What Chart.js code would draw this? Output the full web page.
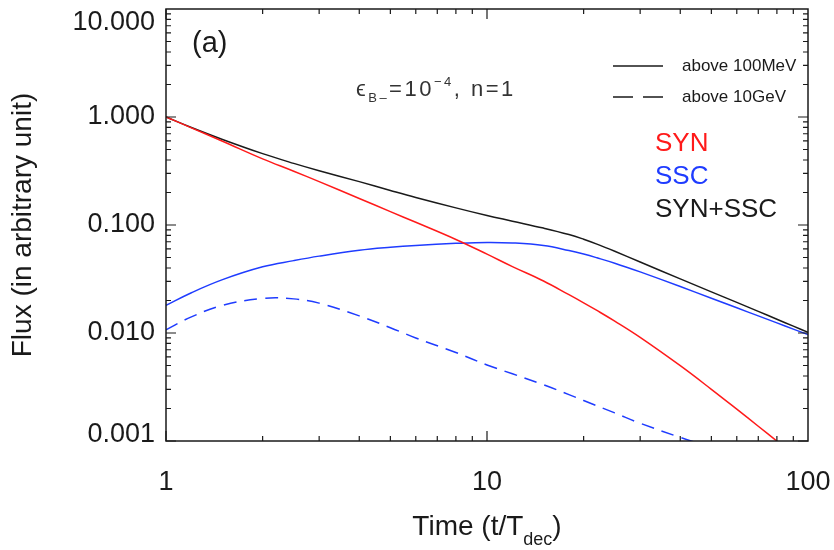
<!DOCTYPE html>
<html>
<head>
<meta charset="utf-8">
<script src="https://cdn.jsdelivr.net/npm/chart.js@4.4.1/dist/chart.umd.min.js"></script>
<style>
  html, body { margin: 0; padding: 0; background: #fff; }
</style>
</head>
<body>
<canvas id="fluxChart" width="834" height="550"></canvas>
<script>
// values (t/Tdec vs flux)
const times = [1, 1.2, 1.5, 2, 2.5, 3, 4, 5, 6, 8, 10, 12, 15, 18, 20, 22, 25, 30, 40, 50, 60, 70, 80, 90, 100];
const synFlux = [1.0, 0.794, 0.597, 0.41, 0.315, 0.252, 0.176, 0.133, 0.106, 0.0735, 0.0537, 0.0412, 0.0303, 0.02262, 0.01902, 0.01617, 0.01288, 0.00911, 0.00498, 0.00301, 0.00197, 0.00137, 0.000997, 0.00075, 0.00058];
const sscFlux = [0.018, 0.0236, 0.0312, 0.041, 0.0468, 0.0515, 0.0583, 0.0622, 0.0647, 0.0676, 0.069, 0.0682, 0.0645, 0.058, 0.0538, 0.0497, 0.0443, 0.03678, 0.02694, 0.02099, 0.01711, 0.0144, 0.0124, 0.01087, 0.00966];
const totalFlux = [1.0, 0.8, 0.62, 0.458, 0.372, 0.318, 0.252, 0.209, 0.18, 0.144, 0.1224, 0.1085, 0.0936, 0.08165, 0.07387, 0.06652, 0.05706, 0.04543, 0.03172, 0.02405, 0.01919, 0.01585, 0.01341, 0.01157, 0.01014];

const times10GeV = [1, 1.2, 1.5, 2, 2.5, 3, 4, 5, 6, 8, 10, 12, 15, 18, 20, 25, 30, 40, 50, 60];
const sscFlux10GeV = [0.0107, 0.0141, 0.018, 0.0209, 0.0207, 0.0189, 0.0144, 0.0112, 0.009, 0.0066, 0.00506, 0.00419, 0.00332, 0.00269, 0.00237, 0.00182, 0.00146, 0.00108, 0.00087, 0.00072];

const xTicks = [1, 10, 100];
const xTickLabels = ['1', '10', '100'];
const yTicks = [0.001, 0.01, 0.1, 1, 10];
const yTickLabels = ['0.001', '0.010', '0.100', '1.000', '10.000'];

const FONT = "'Liberation Sans', Arial, Helvetica, sans-serif";
const RED = '#ff1a1a';
const BLUE = '#1f3cff';
const INK = '#1a1a1a';

const toPoints = (xs, ys) => xs.map((t, i) => ({x: t, y: ys[i]}));

// draws a string made of pieces [text, size, dy]
function drawPieces(ctx, pieces, x, y, align) {
  let w = 0;
  pieces.forEach(p => { ctx.font = p[1] + 'px ' + FONT; w += ctx.measureText(p[0]).width; });
  let cx = align === 'center' ? x - w / 2 : x;
  ctx.textAlign = 'left';
  pieces.forEach(p => {
    ctx.font = p[1] + 'px ' + FONT;
    ctx.fillText(p[0], cx, y + p[2]);
    cx += ctx.measureText(p[0]).width;
  });
}

const framePlugin = {
  id: 'frame',
  afterDatasetsDraw(chart) {
    const {ctx, chartArea: a, scales: {x, y}} = chart;
    ctx.save();
    ctx.strokeStyle = INK;
    ctx.lineWidth = 1.5;
    ctx.strokeRect(a.left, a.top, a.right - a.left, a.bottom - a.top);

    // IDL style inward ticks on all four sides
    ctx.lineWidth = 1.2;
    ctx.beginPath();
    for (let d = 1; d < 100; d *= 10) {
      for (let m = 1; m <= 9; m++) {
        const px = x.getPixelForValue(m * d);
        const len = m === 1 ? 10 : 5;
        ctx.moveTo(px, a.bottom); ctx.lineTo(px, a.bottom - len);
        ctx.moveTo(px, a.top); ctx.lineTo(px, a.top + len);
      }
    }
    for (let d = 0.001; d < 9; d *= 10) {
      for (let m = 1; m <= 9; m++) {
        const py = y.getPixelForValue(m * d);
        const len = m === 1 ? 10 : 5;
        ctx.moveTo(a.left, py); ctx.lineTo(a.left + len, py);
        ctx.moveTo(a.right, py); ctx.lineTo(a.right - len, py);
      }
    }
    ctx.stroke();
    ctx.restore();
  },
  afterDraw(chart) {
    const {ctx, chartArea: a} = chart;
    ctx.save();
    ctx.fillStyle = INK;
    ctx.textBaseline = 'alphabetic';

    // panel tag
    drawPieces(ctx, [['(a)', 29, 0]], 192, 52, 'left');

    // parameters (wide, light lettering as in the original)
    ctx.fillStyle = '#333';
    ctx.letterSpacing = '2.5px';
    drawPieces(ctx, [['\u03f5', 22, 0], ['B\u2013', 13, 6], ['=10', 22, 0], ['\u22124', 13, -10], [', n=1', 22, 0]], 356, 96, 'left');
    ctx.letterSpacing = '0px';

    // line style key
    ctx.strokeStyle = INK;
    ctx.lineWidth = 1.4;
    ctx.beginPath();
    ctx.moveTo(613, 66); ctx.lineTo(663, 66);
    ctx.stroke();
    ctx.setLineDash([20, 10]);
    ctx.beginPath();
    ctx.moveTo(613, 97); ctx.lineTo(663, 97);
    ctx.stroke();
    ctx.setLineDash([]);
    ctx.fillStyle = INK;
    ctx.textBaseline = 'middle';
    drawPieces(ctx, [['above 100MeV', 17, 0]], 682, 66, 'left');
    drawPieces(ctx, [['above 10GeV', 17, 0]], 682, 97, 'left');

    // colour key
    ctx.fillStyle = RED;
    drawPieces(ctx, [['SYN', 26, 0]], 655, 144, 'left');
    ctx.fillStyle = BLUE;
    drawPieces(ctx, [['SSC', 26, 0]], 655, 177, 'left');
    ctx.fillStyle = INK;
    drawPieces(ctx, [['SYN+SSC', 26, 0]], 655, 210, 'left');

    // x axis title with subscript
    ctx.textBaseline = 'alphabetic';
    drawPieces(ctx, [['Time (t/T', 28, 0], ['dec', 18, 10], [')', 28, 0]], (a.left + a.right) / 2, 535, 'center');
    ctx.restore();
  }
};

const ctx = document.getElementById('fluxChart').getContext('2d');

const fluxChart = new Chart(ctx, {
  type: 'line',
  data: {
    datasets: [
      {label: 'SYN', data: toPoints(times, synFlux), borderColor: RED},
      {label: 'SSC', data: toPoints(times, sscFlux), borderColor: BLUE},
      {label: 'SYN+SSC', data: toPoints(times, totalFlux), borderColor: INK},
      {label: 'SSC above 10GeV', data: toPoints(times10GeV, sscFlux10GeV), borderColor: BLUE, borderDash: [13, 8]}
    ]
  },
  options: {
    responsive: false,
    animation: false,
    devicePixelRatio: 1,
    layout: {padding: {left: 0, right: 26, top: 9, bottom: 0}},
    elements: {
      point: {radius: 0},
      line: {borderWidth: 1.5, tension: 0.4, fill: false}
    },
    plugins: {legend: {display: false}, tooltip: {enabled: false}},
    scales: {
      x: {
        type: 'logarithmic',
        min: 1,
        max: 100,
        grid: {display: false, drawTicks: false},
        border: {display: false},
        afterBuildTicks: s => { s.ticks = xTicks.map(v => ({value: v})); },
        afterFit: s => { s.height = 109; s.paddingLeft = 0; s.paddingRight = 0; },
        ticks: {
          autoSkip: false,
          maxRotation: 0,
          padding: 28,
          color: INK,
          font: {family: FONT, size: 27, lineHeight: 1},
          callback: (v, i) => xTickLabels[i]
        }
      },
      y: {
        type: 'logarithmic',
        min: 0.001,
        max: 10,
        grid: {display: false, drawTicks: false},
        border: {display: false},
        afterBuildTicks: s => { s.ticks = yTicks.map(v => ({value: v})); },
        afterFit: s => { s.width = 166; s.paddingTop = 0; s.paddingBottom = 0; },
        ticks: {
          autoSkip: false,
          padding: 11,
          color: INK,
          font: c => ({family: FONT, size: 27, lineHeight: c.index === 0 ? 0.45 : 1}),
          // keep the end labels inside the frame like the original
          callback: (v, i) => i === yTicks.length - 1 ? ['', yTickLabels[i]] : (i === 0 ? [yTickLabels[i], ''] : yTickLabels[i])
        },
        title: {
          display: true,
          text: 'Flux (in arbitrary unit)',
          color: INK,
          font: {family: FONT, size: 28},
          padding: {top: 6, bottom: 0}
        }
      }
    }
  },
  plugins: [framePlugin]
});
</script>
</body>
</html>
